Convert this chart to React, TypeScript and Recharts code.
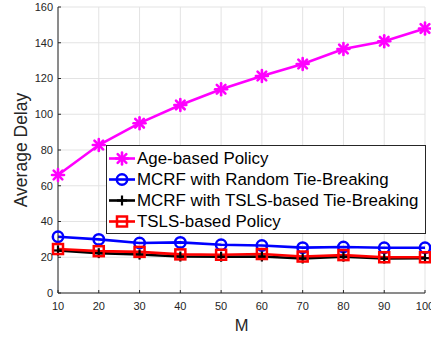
import { CartesianGrid, Label, Legend, Line, LineChart, XAxis, YAxis } from 'recharts';

const mValues = [10, 20, 30, 40, 50, 60, 70, 80, 90, 100];
const ageBased = [66, 82.8, 95, 105.2, 114, 121.4, 128.1, 136.5, 140.8, 148];
const mcrfRandom = [31.5, 30, 28, 28.3, 27, 26.6, 25.4, 25.7, 25.3, 25.3];
const mcrfTsls = [23.8, 22.3, 21.5, 20.4, 20.3, 20.4, 19.3, 20.3, 19.3, 19.5];
const tslsBased = [24.6, 23.4, 23, 21.6, 21.4, 21.8, 20.4, 21.2, 20, 20];
const yTicks = [0, 20, 40, 60, 80, 100, 120, 140, 160];

const data = mValues.map((m, i) => ({
  m,
  age: ageBased[i],
  random: mcrfRandom[i],
  tslsTie: mcrfTsls[i],
  tsls: tslsBased[i],
}));

const font = '"Liberation Sans", Arial, Helvetica, sans-serif';
const axisColor = '#262626';

type Marker = 'star' | 'circle' | 'plus' | 'square';

function markerShape(kind: Marker, cx: number, cy: number, color: string) {
  if (kind === 'star') {
    const r = 6;
    const d = r * 0.72;
    return (
      <g stroke={color} strokeWidth={2.6} strokeLinecap="round">
        <line x1={cx - r} y1={cy} x2={cx + r} y2={cy} />
        <line x1={cx} y1={cy - r} x2={cx} y2={cy + r} />
        <line x1={cx - d} y1={cy - d} x2={cx + d} y2={cy + d} />
        <line x1={cx - d} y1={cy + d} x2={cx + d} y2={cy - d} />
      </g>
    );
  }
  if (kind === 'circle') {
    return <circle cx={cx} cy={cy} r={5.2} fill="none" stroke={color} strokeWidth={2.5} />;
  }
  if (kind === 'plus') {
    return (
      <g stroke={color} strokeWidth={2.2}>
        <line x1={cx - 5} y1={cy} x2={cx + 5} y2={cy} />
        <line x1={cx} y1={cy - 5} x2={cx} y2={cy + 5} />
      </g>
    );
  }
  return <rect x={cx - 5} y={cy - 5} width={10} height={10} fill="none" stroke={color} strokeWidth={2.5} />;
}

const series: { key: string; name: string; color: string; marker: Marker }[] = [
  { key: 'age', name: 'Age-based Policy', color: '#ff00ff', marker: 'star' },
  { key: 'random', name: 'MCRF with Random Tie-Breaking', color: '#0000ff', marker: 'circle' },
  { key: 'tslsTie', name: 'MCRF with TSLS-based Tie-Breaking', color: '#000000', marker: 'plus' },
  { key: 'tsls', name: 'TSLS-based Policy', color: '#ff0000', marker: 'square' },
];

function LegendBox() {
  return (
    <div
      style={{
        border: `1px solid ${axisColor}`,
        background: '#fff',
        width: 320,
        height: 89,
        boxSizing: 'border-box',
        paddingTop: 2,
        fontFamily: font,
      }}
    >
      {series.map((s) => (
        <div key={s.key} style={{ display: 'flex', alignItems: 'center', height: 21, lineHeight: '21px' }}>
          <svg width={30} height={21} style={{ flex: 'none' }}>
            <line x1={2} y1={10.5} x2={28} y2={10.5} stroke={s.color} strokeWidth={2.6} />
            {markerShape(s.marker, 15, 10.5, s.color)}
          </svg>
          <span style={{ fontSize: 16.9, color: '#000', whiteSpace: 'nowrap' }}>{s.name}</span>
        </div>
      ))}
    </div>
  );
}

export default function App() {
  return (
    <div style={{ position: 'absolute', left: 0, top: 0, width: 431, height: 339, background: '#fff' }}>
      <LineChart width={431} height={339} data={data} margin={{ top: 7, right: 6, left: 0, bottom: 0 }}>
        <CartesianGrid stroke="#e3e3e3" strokeWidth={1} />
        <XAxis
          dataKey="m"
          type="number"
          domain={[10, 100]}
          ticks={mValues}
          height={46}
          stroke={axisColor}
          tickSize={-3}
          tickMargin={12}
          tick={{ fill: axisColor, fontSize: 11, fontFamily: font }}
          interval={0}
        >
          <Label
            content={({ viewBox }: any) => (
              <text
                x={viewBox.x + viewBox.width / 2}
                y={viewBox.y + 32}
                textAnchor="middle"
                dominantBaseline="central"
                fontSize={16.5}
                fontFamily={font}
                fill={axisColor}
              >
                M
              </text>
            )}
          />
        </XAxis>
        <YAxis
          type="number"
          domain={[0, 160]}
          ticks={yTicks}
          width={58}
          stroke={axisColor}
          tickSize={-3}
          tickMargin={8}
          tick={{ fill: axisColor, fontSize: 11, fontFamily: font }}
          interval={0}
        >
          <Label
            content={({ viewBox }: any) => {
              const cx = viewBox.x + 21;
              const cy = viewBox.y + viewBox.height / 2;
              return (
                <text
                  x={cx}
                  y={cy}
                  transform={`rotate(-90, ${cx}, ${cy})`}
                  textAnchor="middle"
                  dominantBaseline="central"
                  fontSize={17.5}
                  fontFamily={font}
                  fill={axisColor}
                >
                  Average Delay
                </text>
              );
            }}
          />
        </YAxis>
        <Legend
          layout="horizontal"
          align="center"
          verticalAlign="middle"
          content={() => <LegendBox />}
          wrapperStyle={{ left: 106, top: 145, width: 320, bottom: 'auto' }}
        />
        {series.map((s) => (
          <Line
            key={s.key}
            dataKey={s.key}
            name={s.name}
            stroke={s.color}
            strokeWidth={2.6}
            isAnimationActive={false}
            dot={(p: any) => <g key={`${s.key}-${p.index}`}>{markerShape(s.marker, p.cx, p.cy, s.color)}</g>}
            activeDot={false}
          />
        ))}
      </LineChart>
    </div>
  );
}
